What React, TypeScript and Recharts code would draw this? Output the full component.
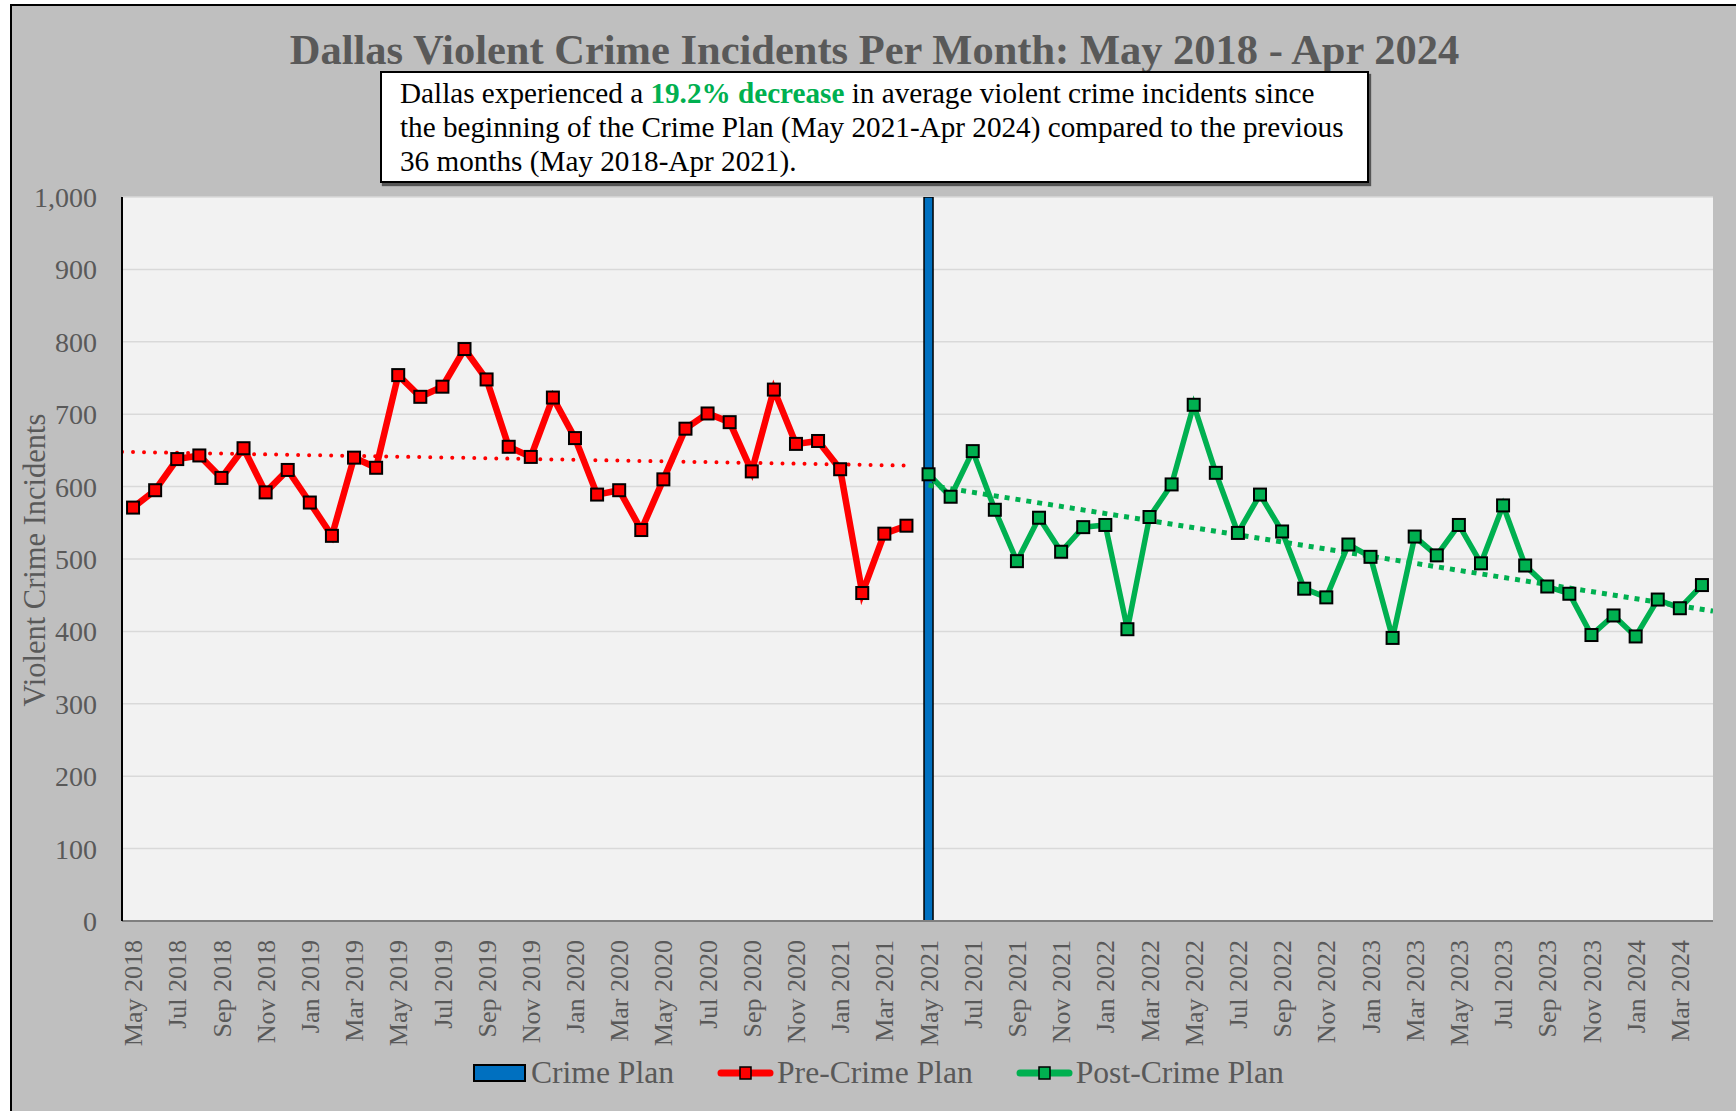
import React from 'react';
import { ComposedChart, Line, Bar, XAxis, YAxis, CartesianGrid, Legend } from 'recharts';

const FONT = "'Liberation Serif', 'Times New Roman', serif";
const TEXT_GREY = '#595959';

const months = [
  'May 2018', 'Jun 2018', 'Jul 2018', 'Aug 2018', 'Sep 2018', 'Oct 2018', 'Nov 2018', 'Dec 2018',
  'Jan 2019', 'Feb 2019', 'Mar 2019', 'Apr 2019', 'May 2019', 'Jun 2019', 'Jul 2019', 'Aug 2019',
  'Sep 2019', 'Oct 2019', 'Nov 2019', 'Dec 2019', 'Jan 2020', 'Feb 2020', 'Mar 2020', 'Apr 2020',
  'May 2020', 'Jun 2020', 'Jul 2020', 'Aug 2020', 'Sep 2020', 'Oct 2020', 'Nov 2020', 'Dec 2020',
  'Jan 2021', 'Feb 2021', 'Mar 2021', 'Apr 2021', 'May 2021', 'Jun 2021', 'Jul 2021', 'Aug 2021',
  'Sep 2021', 'Oct 2021', 'Nov 2021', 'Dec 2021', 'Jan 2022', 'Feb 2022', 'Mar 2022', 'Apr 2022',
  'May 2022', 'Jun 2022', 'Jul 2022', 'Aug 2022', 'Sep 2022', 'Oct 2022', 'Nov 2022', 'Dec 2022',
  'Jan 2023', 'Feb 2023', 'Mar 2023', 'Apr 2023', 'May 2023', 'Jun 2023', 'Jul 2023', 'Aug 2023',
  'Sep 2023', 'Oct 2023', 'Nov 2023', 'Dec 2023', 'Jan 2024', 'Feb 2024', 'Mar 2024', 'Apr 2024',
];

// Pre-Crime Plan: May 2018 - Apr 2021
const preCrimePlan = [
  571, 595, 638, 643, 612, 653, 592, 623, 578, 532, 640, 626,
  754, 724, 738, 790, 748, 655, 641, 723, 667, 589, 595, 540,
  610, 680, 701, 689, 621, 734, 659, 663, 624, 453, 535, 546,
];

// Post-Crime Plan: May 2021 - Apr 2024
const postCrimePlan = [
  617, 586, 649, 568, 497, 557, 510, 544, 547, 403, 558, 603,
  713, 619, 536, 589, 538, 459, 447, 520, 503, 391, 531, 505,
  547, 494, 574, 491, 462, 452, 395, 422, 393, 444, 432, 464,
];

const crimePlanMonth = 'May 2021';
const crimePlanValue = 1000;

// trend line end values (axis start -> Apr 2021, May 2021 -> axis end)
const preTrend = [648, 629];
const postTrend = [602, 428];

const yTicks = [0, 100, 200, 300, 400, 500, 600, 700, 800, 900, 1000];

const preCount = preCrimePlan.length;
const xTicks = months.map((_, i) => i).filter((i) => i % 2 === 0);
const xMin = -0.5;
const xMax = months.length - 0.5;

const data: any[] = [];
data.push({ x: xMin, preTrend: preTrend[0] });
months.forEach((m, i) => {
  const row: any = {
    x: i,
    month: m,
    pre: i < preCount ? preCrimePlan[i] : null,
    post: i >= preCount ? postCrimePlan[i - preCount] : null,
    plan: m === crimePlanMonth ? crimePlanValue : null,
  };
  if (i === preCount - 1) row.preTrend = preTrend[1];
  if (i === preCount) row.postTrend = postTrend[0];
  data.push(row);
});
data.push({ x: xMax, postTrend: postTrend[1] });

const makeDot = (fill: string) => (props: any) => {
  const { cx, cy, index } = props;
  if (cx == null || cy == null || props.value == null) return <g key={`e-${index}`} />;
  return (
    <rect
      key={`d-${index}`}
      x={cx - 6}
      y={cy - 6}
      width={12}
      height={12}
      fill={fill}
      stroke="#000"
      strokeWidth={2}
    />
  );
};

const XTick = (props: any) => {
  const { x, y, payload } = props;
  return (
    <g transform={`translate(${x},${y})`}>
      <text
        transform="rotate(-90)"
        textAnchor="end"
        dy="0.35em"
        fill={TEXT_GREY}
        fontSize={26}
        fontFamily={FONT}
      >
        {months[payload.value]}
      </text>
    </g>
  );
};

const LegendContent = () => (
  <div
    style={{
      display: 'flex',
      alignItems: 'center',
      height: 40,
      paddingLeft: 473,
      fontFamily: FONT,
      fontSize: 31.6,
      color: TEXT_GREY,
      lineHeight: 1,
      whiteSpace: 'nowrap',
    }}
  >
    <svg width={53} height={18} style={{ marginRight: 5 }}>
      <rect x={1} y={1} width={51} height={16} fill="#0070C0" stroke="#000" strokeWidth={2} />
    </svg>
    <span style={{ marginRight: 43 }}>Crime Plan</span>
    <svg width={57} height={14} style={{ marginRight: 3 }}>
      <line x1={4} y1={7} x2={53} y2={7} stroke="#FF0000" strokeWidth={7} strokeLinecap="round" />
      <rect x={23} y={1} width={11} height={12} fill="#FF0000" stroke="#000" strokeWidth={1.5} />
    </svg>
    <span style={{ marginRight: 43 }}>Pre-Crime Plan</span>
    <svg width={57} height={14} style={{ marginRight: 3 }}>
      <line x1={4} y1={7} x2={53} y2={7} stroke="#00B050" strokeWidth={7} strokeLinecap="round" />
      <rect x={23} y={1} width={11} height={12} fill="#00B050" stroke="#000" strokeWidth={1.5} />
    </svg>
    <span>Post-Crime Plan</span>
  </div>
);

export default function App() {
  return (
    <div
      style={{
        position: 'absolute',
        left: 0,
        top: 0,
        width: 1736,
        height: 1111,
        overflow: 'hidden',
        background: '#FFFFFF',
      }}
    >
      <div
        style={{
          position: 'absolute',
          left: 10,
          top: 4,
          width: 1760,
          height: 1140,
          background: '#BFBFBF',
          border: '2px solid #000',
        }}
      />
      <div
        style={{
          position: 'absolute',
          left: 0,
          top: 29,
          width: 1749,
          textAlign: 'center',
          fontFamily: FONT,
          fontWeight: 'bold',
          fontSize: 42.5,
          lineHeight: 1,
          color: TEXT_GREY,
          whiteSpace: 'nowrap',
        }}
      >
        Dallas Violent Crime Incidents Per Month: May 2018 - Apr 2024
      </div>
      <div
        style={{
          position: 'absolute',
          left: 380,
          top: 71,
          width: 989,
          height: 112,
          boxSizing: 'border-box',
          background: '#FFFFFF',
          border: '2px solid #000',
          boxShadow: '2px 3px 1px rgba(0,0,0,0.55)',
          padding: '3px 0 0 18px',
          fontFamily: FONT,
          fontSize: 29.2,
          lineHeight: '34px',
          color: '#000',
          whiteSpace: 'nowrap',
        }}
      >
        Dallas experienced a{' '}
        <span style={{ color: '#00B050', fontWeight: 'bold' }}>19.2% decrease</span> in average violent crime
        incidents since
        <br />
        the beginning of the Crime Plan (May 2021-Apr 2024) compared to the previous
        <br />
        36 months (May 2018-Apr 2021).
      </div>
      <div
        style={{
          position: 'absolute',
          left: 35,
          top: 560,
          transform: 'translate(-50%, -50%) rotate(-90deg)',
          fontFamily: FONT,
          fontSize: 30.5,
          lineHeight: 1,
          color: TEXT_GREY,
          whiteSpace: 'nowrap',
        }}
      >
        Violent Crime Incidents
      </div>
      <div style={{ position: 'absolute', left: 0, top: 0 }}>
        <ComposedChart
          width={1736}
          height={1111}
          data={data}
          margin={{ top: 197, right: 23, bottom: 60, left: 0 }}
        >
          <CartesianGrid
            vertical={false}
            horizontal
            fill="#F2F2F2"
            stroke="#D9D9D9"
            strokeWidth={1.5}
            yAxisId="left"
            xAxisId="main"
          />
          <XAxis
            xAxisId="main"
            dataKey="x"
            type="number"
            domain={[xMin, xMax]}
            ticks={xTicks}
            interval={0}
            tickLine={false}
            tickSize={0}
            tickMargin={19}
            height={130}
            tick={<XTick />}
            axisLine={{ stroke: '#7F7F7F', strokeWidth: 2 }}
            allowDataOverflow
          />
          <XAxis
            xAxisId="top"
            orientation="top"
            dataKey="x"
            type="number"
            domain={[xMin, xMax]}
            height={0}
            tick={false}
            tickLine={false}
            axisLine={{ stroke: '#000', strokeWidth: 2 }}
            allowDataOverflow
          />
          <YAxis
            yAxisId="left"
            domain={[0, 1000]}
            ticks={yTicks}
            interval={0}
            width={122}
            tickLine={false}
            tickSize={0}
            tickMargin={25}
            tickFormatter={(v: number) => v.toLocaleString('en-US')}
            tick={{ fill: TEXT_GREY, fontSize: 28, fontFamily: FONT }}
            axisLine={{ stroke: '#000', strokeWidth: 2 }}
            allowDataOverflow
          />
          <YAxis
            yAxisId="right"
            orientation="right"
            domain={[0, 1000]}
            width={0}
            tick={false}
            tickLine={false}
            axisLine={{ stroke: '#000', strokeWidth: 2 }}
          />
          <Bar
            xAxisId="main"
            yAxisId="left"
            dataKey="plan"
            name="Crime Plan"
            barSize={9}
            fill="#0070C0"
            stroke="#000"
            strokeWidth={1.5}
            isAnimationActive={false}
          />
          <Line
            xAxisId="main"
            yAxisId="left"
            dataKey="preTrend"
            stroke="#FF0000"
            strokeWidth={4}
            strokeDasharray="0.01 11"
            strokeLinecap="round"
            connectNulls
            dot={false}
            activeDot={false}
            legendType="none"
            isAnimationActive={false}
          />
          <Line
            xAxisId="main"
            yAxisId="left"
            dataKey="postTrend"
            stroke="#00B050"
            strokeWidth={5}
            strokeDasharray="5 6"
            connectNulls
            dot={false}
            activeDot={false}
            legendType="none"
            isAnimationActive={false}
          />
          <Line
            xAxisId="main"
            yAxisId="left"
            dataKey="pre"
            name="Pre-Crime Plan"
            stroke="#FF0000"
            strokeWidth={6.5}
            strokeLinejoin="miter"
            dot={makeDot('#FF0000')}
            activeDot={false}
            isAnimationActive={false}
          />
          <Line
            xAxisId="main"
            yAxisId="left"
            dataKey="post"
            name="Post-Crime Plan"
            stroke="#00B050"
            strokeWidth={5.5}
            strokeLinejoin="miter"
            dot={makeDot('#00B050')}
            activeDot={false}
            isAnimationActive={false}
          />
          <Legend
            layout="horizontal"
            verticalAlign="middle"
            align="center"
            wrapperStyle={{ left: 0, top: 1053, width: 1736, height: 40 }}
            content={() => <LegendContent />}
          />
        </ComposedChart>
      </div>
    </div>
  );
}
